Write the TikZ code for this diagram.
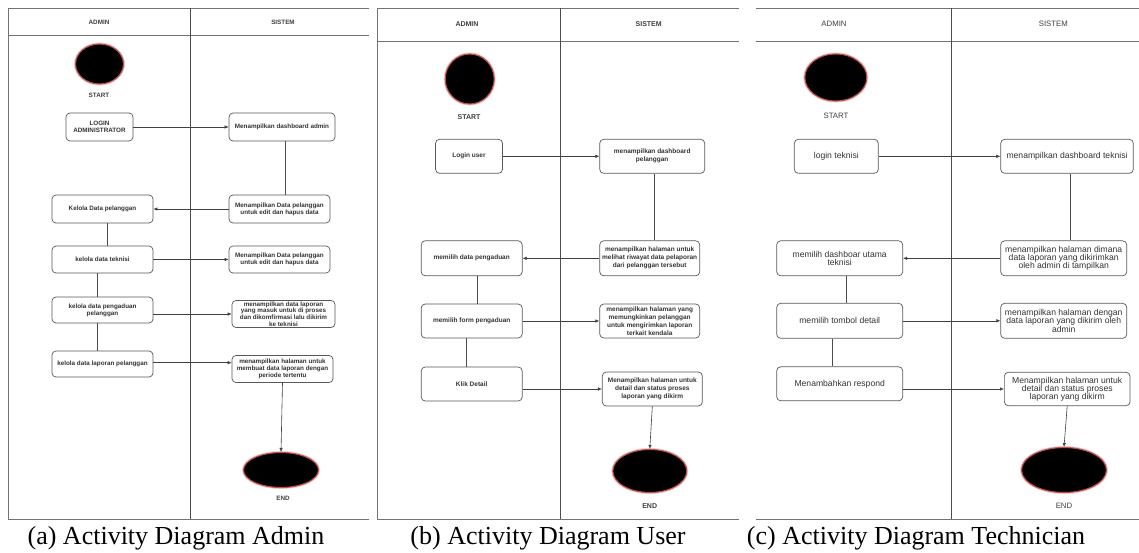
\documentclass[tikz,border=0pt]{standalone}
\usepackage{fontspec}
\setmainfont{Liberation Sans}
\newfontfamily\capfont{Liberation Serif}
\usetikzlibrary{arrows.meta,shapes.geometric}
\tikzset{
  frame/.style={draw=black!55, line width=0.9pt},
  divider/.style={draw=black!70, line width=0.9pt},
  boxa/.style={draw=black!65, rounded corners=4pt, line width=0.7pt, align=center, inner sep=1pt, text=black!80, font=\fontsize{6.3}{6.8}\selectfont\bfseries},
  boxb/.style={boxa, font=\fontsize{6.5}{8}\selectfont\bfseries},
  boxc/.style={boxa, font=\fontsize{8.6}{8.2}\selectfont},
  sz/.style 2 args={minimum width=#1pt, minimum height=#2pt},
  term/.style={ellipse, fill=black, draw={rgb,255:red,190;green,80;blue,80}, line width=1.1pt, inner sep=0pt,
    preaction={draw={rgb,255:red,240;green,200;blue,200}, line width=3pt}},
  lbla/.style={text=black!75, font=\fontsize{6.3}{7}\selectfont\bfseries},
  lblb/.style={text=black!75, font=\fontsize{7}{8}\selectfont\bfseries},
  lblc/.style={text=black!75, font=\fontsize{7.8}{8}\selectfont},
  arr/.style={draw=black!75, line width=0.6pt, -{Latex[length=4pt,width=3.5pt]}},
  conn/.style={draw=black!70, line width=0.6pt},
  caption/.style={font=\capfont\fontsize{26}{29}\selectfont, anchor=base}
}
\begin{document}
\begin{tikzpicture}[x=1pt,y=-1pt]
\useasboundingbox (0,0) rectangle (1139,552);
\fill[white] (0,0) rectangle (1139,552);

% ================= Panel (a) =================
\draw[frame] (8,8) -- (369,8);
\draw[frame] (8,35) -- (369,35);
\draw[frame] (8,519) -- (369,519);
\draw[frame] (8,8) -- (8,519);
\draw[divider] (190.7,8) -- (190.7,519);
\node[lbla] (ahA) at (99,22) {ADMIN};
\node[lbla] (ahS) at (283,22) {SISTEM};
\node[term, minimum width=48pt, minimum height=40pt] (aS) at (99.5,64) {};
\node[lbla] (aSt) at (99,95) {START};
\node[boxa, sz={67}{28}] (a1) at (99.5,127) {LOGIN\\ADMINISTRATOR};
\node[boxa, sz={106}{28}] (a2) at (282,127) {Menampilkan dashboard admin};
\node[boxa, sz={101}{28}] (a3) at (102.5,209) {Kelola Data pelanggan};
\node[boxa, sz={101}{28}] (a4) at (279.5,209) {Menampilkan Data pelanggan\\untuk edit dan hapus data};
\node[boxa, sz={101}{27}] (a5) at (102.5,259.5) {kelola data teknisi};
\node[boxa, sz={101}{27}] (a6) at (279.5,259.5) {Menampilkan Data pelanggan\\untuk edit dan hapus data};
\node[boxa, sz={101}{26}] (a7) at (102.5,310) {kelola data pengaduan\\pelanggan};
\node[boxa, sz={103}{27}] (a8) at (283.5,314) {menampilkan data laporan\\yang masuk untuk di proses\\dan dikomfirmasi lalu dikirim\\ke teknisi};
\node[boxa, sz={101}{26}] (a9) at (102.5,364) {kelola data laporan pelanggan};
\node[boxa, sz={101}{27}] (a10) at (282.5,369) {menampilkan halaman untuk\\membuat data laporan dengan\\periode tertentu};
\node[term, minimum width=75pt, minimum height=35pt] (aE) at (281,470) {};
\node[lbla] (aEt) at (283,498) {END};
\draw[arr] (a1.east) -- (a2.west);
\draw[conn] ([xshift=3pt]a2.south) -- ([xshift=3pt]a2.south |- a4.north);
\draw[arr] (a4.west) -- (a3.east);
\draw[conn] ([xshift=4.5pt]a3.south) -- ([xshift=4.5pt]a3.south |- a5.north);
\draw[arr] (a5.east) -- (a6.west);
\draw[conn] ([xshift=-5.5pt]a5.south) -- ([xshift=-5.5pt]a5.south |- a7.north);
\draw[arr] (a8.west -| a7.east) -- (a8.west);
\draw[conn] ([xshift=-5.5pt]a7.south) -- ([xshift=-5.5pt]a7.south |- a9.north);
\draw[arr] ([yshift=1.3pt]a9.east) -- ([yshift=1.3pt]a9.east -| a10.west);
\draw[arr] (a10.south) -- (aE.north);
\node[caption] (capA) at (176,544) {(a) Activity Diagram Admin};

% ================= Panel (b) =================
\draw[frame] (377.3,8) -- (739,8);
\draw[frame] (377.3,41.7) -- (739,41.7);
\draw[frame] (377.3,519) -- (739,519);
\draw[frame] (377.3,8) -- (377.3,519);
\draw[divider] (560.7,8) -- (560.7,519);
\node[lblb] (bhA) at (467,24) {ADMIN};
\node[lblb] (bhS) at (648.7,24) {SISTEM};
\node[term, minimum width=49pt, minimum height=50pt] (bS) at (469.7,79) {};
\node[lblb] (bSt) at (469,116.7) {START};
\node[boxb, sz={67}{34}] (b1) at (469,156.3) {Login user};
\node[boxb, sz={105}{34}] (b2) at (652.2,156.3) {menampilkan dashboard\\pelanggan};
\node[boxb, sz={101}{35}] (b3) at (471.7,258.3) {memilih data pengaduan};
\node[boxb, sz={100}{35}] (b4) at (649.7,258.3) {menampilkan halaman untuk\\melihat riwayat data pelaporan\\dari pelanggan tersebut};
\node[boxb, sz={101}{34}] (b5) at (471.7,321) {memilih form pengaduan};
\node[boxb, sz={100}{34}] (b6) at (649.7,321) {menampilkan halaman yang\\memungkinkan pelanggan\\untuk mengirimkan laporan\\terkait kendala};
\node[boxb, sz={101}{34}] (b7) at (471.7,384) {Klik Detail};
\node[boxb, sz={100}{34}] (b8) at (652.3,389) {Menampilkan halaman untuk\\detail dan status proses\\laporan yang dikirm};
\node[term, minimum width=74pt, minimum height=43pt] (bE) at (649.8,471) {};
\node[lblb] (bEt) at (649.7,506) {END};
\draw[arr] (b1.east) -- (b2.west);
\draw[conn] ([xshift=2.5pt]b2.south) -- ([xshift=2.5pt]b2.south |- b4.north);
\draw[arr] (b4.west) -- (b3.east);
\draw[conn] ([xshift=5.6pt]b3.south) -- ([xshift=5.6pt]b3.south |- b5.north);
\draw[arr] (b5.east) -- (b6.west);
\draw[conn] ([xshift=-5.4pt]b5.south) -- ([xshift=-5.4pt]b5.south |- b7.north);
\draw[arr] (b8.west -| b7.east) -- (b8.west);
\draw[arr] (b8.south) -- (bE.north);
\node[caption] (capB) at (548,544) {(b) Activity Diagram User};

% ================= Panel (c) =================
\draw[frame] (756,8) -- (1139,8);
\draw[frame] (756,41.7) -- (1139,41.7);
\draw[frame] (756,519) -- (1139,519);
\draw[divider] (951,8) -- (951,519);
\node[lblc] (chA) at (834,24) {ADMIN};
\node[lblc] (chS) at (1053.3,24) {SISTEM};
\node[term, minimum width=62pt, minimum height=47pt] (cS) at (835.8,77.5) {};
\node[lblc] (cSt) at (836,116.3) {START};
\node[boxc, sz={84}{34}] (c1) at (836.3,156.3) {login teknisi};
\node[boxc, sz={132.6}{34}] (c2) at (1067,156.3) {menampilkan dashboard teknisi};
\node[boxc, sz={126}{35}] (c3) at (839.7,258.3) {memilih dashboar utama\\teknisi};
\node[boxc, sz={126}{35}] (c4) at (1063.7,258.3) {menampilkan halaman dimana\\data laporan yang dikirimkan\\oleh admin di tampilkan};
\node[boxc, sz={126}{35}] (c5) at (839.7,320.8) {memilih tombol detail};
\node[boxc, sz={126}{35}] (c6) at (1063.7,320.8) {menampilkan halaman dengan\\data laporan yang dikirim oleh\\admin};
\node[boxc, sz={126}{34}] (c7) at (839.7,383.8) {Menambahkan respond};
\node[boxc, sz={125.7}{33.4}] (c8) at (1067.2,389) {Menampilkan halaman untuk\\detail dan status proses\\laporan yang dikirm};
\node[term, minimum width=85pt, minimum height=45pt] (cE) at (1064,470) {};
\node[lblc] (cEt) at (1064,505.5) {END};
\draw[arr] (c1.east) -- (c2.west);
\draw[conn] ([xshift=3.7pt]c2.south) -- ([xshift=3.7pt]c2.south |- c4.north);
\draw[arr] (c4.west) -- (c3.east);
\draw[conn] ([xshift=7pt]c3.south) -- ([xshift=7pt]c3.south |- c5.north);
\draw[arr] (c5.east) -- (c6.west);
\draw[conn] ([xshift=-7pt]c5.south) -- ([xshift=-7pt]c5.south |- c7.north);
\draw[arr] (c8.west -| c7.east) -- (c8.west);
\draw[arr] (c8.south) -- (cE.north);
\node[caption] (capC) at (916,544) {(c) Activity Diagram Technician};
\end{tikzpicture}
\end{document}
